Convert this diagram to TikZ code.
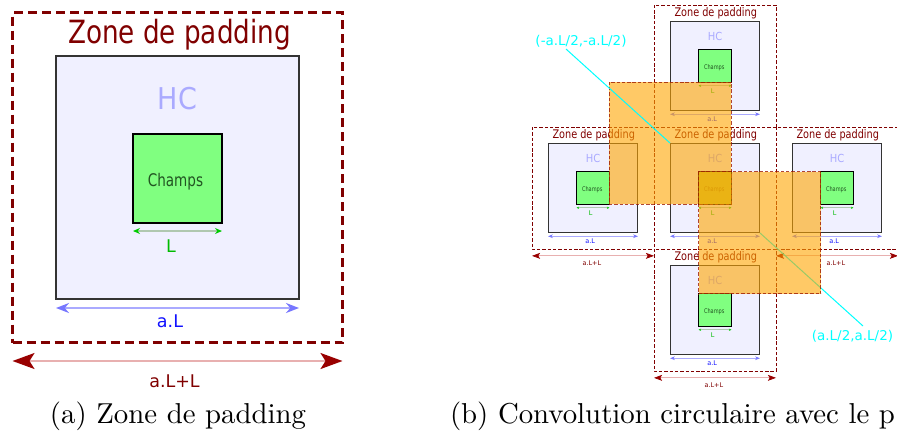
\documentclass[tikz,border=0pt]{standalone}
\usepackage{fontspec}
\usepackage{graphicx}
\usetikzlibrary{arrows.meta}
\newfontfamily\dv{DejaVu Sans}
\definecolor{dred}{HTML}{800000}
\definecolor{hcfill}{HTML}{F0F0FF}
\definecolor{hcdraw}{HTML}{333333}
\definecolor{hctext}{HTML}{AAAAFF}
\definecolor{chfill}{HTML}{80FF80}
\definecolor{chtext}{HTML}{225522}
\definecolor{ltext}{HTML}{00BB00}
\definecolor{ltip}{HTML}{00CC00}
\definecolor{lline}{HTML}{B0C8B0}
\definecolor{atext}{HTML}{1111FF}
\definecolor{atip}{HTML}{7777FF}
\definecolor{aline}{HTML}{AAAAFF}
\definecolor{btip}{HTML}{990000}
\definecolor{bline}{HTML}{E8B0B0}
\definecolor{orangeA}{HTML}{FFA500}
\definecolor{odraw}{HTML}{9E1A00}
\definecolor{cyanA}{HTML}{00FFFF}

% block: padding zone, HC box, Champs box, L and a.L dimension arrows
\newcommand\padblock[4]{%
 \pgfmathsetmacro\lwPad{#4==1 ? 3 : 0.9}%
 \pgfmathsetmacro\dOn{#4==1 ? 9 : 3.4}%
 \pgfmathsetmacro\dOff{#4==1 ? 5 : 1.9}%
 \pgfmathsetmacro\lwHC{max(1.5*#4,0.9)}%
 \pgfmathsetmacro\lwCh{max(2*#4,1.1)}%
 \pgfmathsetmacro\lwLine{2*#4}%
 \pgfmathsetmacro\tLa{7*#4}\pgfmathsetmacro\tLb{6*#4}%
 \pgfmathsetmacro\tAa{13*#4}\pgfmathsetmacro\tAb{10*#4}%
 \begin{scope}[shift={(#2,#3)},scale=#4,transform shape]
  \node[padzone,line width=\lwPad pt,dash pattern=on \dOn pt off \dOff pt] (#1pad) at (0,0) {};
  \node[txt,text=dred,font=\dv\fontsize{32}{32}\selectfont] (#1zone) at (2,-134.5) {\scalebox{0.82}[1]{Zone de padding}};
  \node[hcbox,line width=\lwHC pt] (#1hc) at (0,0) {};
  \node[txt,text=hctext,font=\dv\fontsize{30}{30}\selectfont] (#1hct) at (0,-68.5) {\scalebox{0.9}[1]{HC}};
  \node[chbox,line width=\lwCh pt] (#1ch) at (0,0.5) {};
  \node[txt,text=chtext,font=\dv\fontsize{17.4}{17.4}\selectfont] (#1cht) at (-2,8.5) {\scalebox{0.78}[1]{Champs}};
  \coordinate (#1l1) at (-44.5,53.5);
  \coordinate (#1l2) at (44.5,53.5);
  \draw[draw=lline,line width=\lwLine pt,{Stealth[length=\tLa pt,width=\tLb pt,color=ltip]}-{Stealth[length=\tLa pt,width=\tLb pt,color=ltip]}] (#1l1) -- (#1l2);
  \node[txt,text=ltext,font=\dv\fontsize{17.5}{17.5}\selectfont] (#1lt) at (-6.5,74.5) {L};
  \coordinate (#1a1) at (-121.5,130.5);
  \coordinate (#1a2) at (121.5,130.5);
  \draw[draw=aline,line width=\lwLine pt,{Stealth[length=\tAa pt,width=\tAb pt,color=atip]}-{Stealth[length=\tAa pt,width=\tAb pt,color=atip]}] (#1a1) -- (#1a2);
  \node[txt,text=atext,font=\dv\fontsize{17.5}{17.5}\selectfont] (#1at) at (-7.5,149.5) {a.L};
 \end{scope}}

% a.L+L dimension arrow below a block
\newcommand\padspan[4]{%
 \pgfmathsetmacro\lwLine{2*#4}%
 \pgfmathsetmacro\tBa{22*#4}\pgfmathsetmacro\tBb{16*#4}\pgfmathsetmacro\tBi{5*#4}%
 \begin{scope}[shift={(#2,#3)},scale=#4,transform shape]
  \coordinate (#1b1) at (-165,183.5);
  \coordinate (#1b2) at (165,183.5);
  \draw[draw=bline,line width=\lwLine pt,{Stealth[length=\tBa pt,width=\tBb pt,inset=\tBi pt,color=btip]}-{Stealth[length=\tBa pt,width=\tBb pt,inset=\tBi pt,color=btip]}] (#1b1) -- (#1b2);
  \node[txt,text=dred,font=\dv\fontsize{17.5}{17.5}\selectfont] (#1bt) at (-3,209.5) {a.L+L};
 \end{scope}}

\begin{document}
\begin{tikzpicture}[x=1pt,y=-1pt,
  txt/.style={inner sep=0pt,outer sep=0pt,anchor=base},
  padzone/.style={draw=dred,fill=white,minimum size=330pt,inner sep=0pt,outer sep=0pt},
  hcbox/.style={draw=hcdraw,fill=hcfill,minimum size=243pt,inner sep=0pt,outer sep=0pt},
  chbox/.style={draw=black,fill=chfill,minimum size=89pt,inner sep=0pt,outer sep=0pt},
  orangebox/.style={draw=odraw,fill=orangeA,fill opacity=0.6,draw opacity=0.8,minimum size=122pt,inner sep=0pt,outer sep=0pt,line width=0.9pt,dash pattern=on 3.4pt off 1.9pt},
  cyanline/.style={draw=cyanA,line width=1pt},
  cyantext/.style={txt,text=cyanA,font=\dv\fontsize{13.5}{13.5}\selectfont},
  captext/.style={inner sep=0pt,outer sep=0pt},
]
\useasboundingbox (0,0) rectangle (897,432);
\fill[white] (0,0) rectangle (897,432);

\padblock{A}{177.5}{177.5}{1}
\padspan{A}{177.5}{177.5}{1}

\padblock{T}{715}{66}{0.3697}
\padblock{ML}{593}{188}{0.3697}
\padspan{ML}{593}{188}{0.3697}
\padblock{MC}{715}{188}{0.3697}
\padblock{MR}{837}{188}{0.3697}
\padspan{MR}{837}{188}{0.3697}
\padblock{B}{715}{310}{0.3697}
\padspan{B}{715}{310}{0.3697}

\node[orangebox] (o1) at (MChc.north west) {};
\node[cyantext,anchor=base] (lab1) at (581,45) {(-a.L/2,-a.L/2)};
\coordinate (c1) at (566,49);
\draw[cyanline] (c1) -- (o1.center);
\node[cyantext,anchor=base] (lab2) at (852.5,340) {(a.L/2,a.L/2)};
\coordinate (c2) at (863,326);
\draw[cyanline] (MChc.south east) -- (c2);
\node[orangebox] (o2) at (MChc.south east) {};

\node[captext,anchor=base] (capa) at (178,423) {\scalebox{2.88}{\fontsize{10}{12}\selectfont (a) Zone de padding}};
\node[captext,anchor=base west] (capb) at (450,423) {\scalebox{2.88}{\fontsize{10}{12}\selectfont (b) Convolution circulaire avec le p}};
\end{tikzpicture}
\end{document}
